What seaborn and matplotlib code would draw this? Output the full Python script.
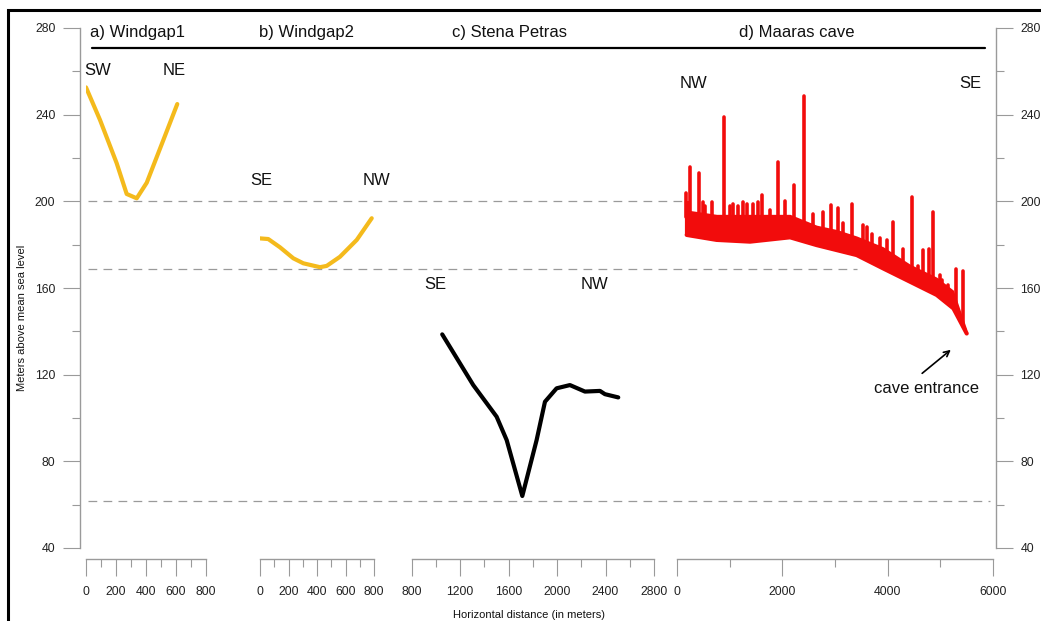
import numpy as np
import pandas as pd
import matplotlib
matplotlib.use("Agg")
import matplotlib.pyplot as plt
import seaborn as sns
from matplotlib.ticker import MultipleLocator

# ==================================================
# DATA
# ==================================================

# a) Windgap1 profile, SW -> NE
wg1_dist = [0, 94, 205, 272, 339, 406, 517, 610]
wg1_elev = [252.6, 237.5, 217.6, 203.4, 201.4, 208.6, 228.3, 244.9]

# b) Windgap2 profile, SE -> NW
wg2_dist = [0, 58, 140, 234, 304, 421, 468, 561, 679, 784]
wg2_elev = [182.9, 182.6, 178.8, 173.7, 171.4, 169.6, 170.2, 174.4, 182.2, 192.2]

# c) Stena Petras profile, SE -> NW
sp_dist = [1052, 1308, 1501, 1584, 1713, 1831, 1900, 1996, 2106, 2230, 2354, 2395, 2505]
sp_elev = [138.6, 115.2, 100.6, 89.8, 64.0, 89.8, 107.5, 113.7, 115.2, 112.2, 112.5, 111.0, 109.5]

# d) Maaras cave passage, NW -> SE (floor / roof envelope + spikes)
mc_dist = [184, 753, 1387, 2146, 2652, 3032, 3412, 3918, 4425, 4931, 5248, 5501]
mc_floor = [184.5, 182.2, 181.4, 183.4, 179.8, 177.5, 175.2, 169.0, 162.9, 156.8, 150.6, 139.0]
mc_roof = [196, 194, 194, 194, 189, 187, 184, 179, 171, 165, 159, 141]
spike_dist = [171, 247, 418, 500, 532, 658, 892, 1006, 1070, 1165, 1260, 1324, 1450,
              1545, 1621, 1767, 1912, 2051, 2222, 2412, 2590, 2779, 2925, 3064, 3159,
              3317, 3539, 3602, 3697, 3855, 3982, 4108, 4298, 4463, 4583, 4666, 4793,
              4855, 4995, 5026, 5146, 5291, 5437]
spike_elev = [203.7, 216.0, 212.9, 199.5, 198.0, 199.5, 238.8, 198.0, 199.0, 198.0,
              199.5, 199.0, 199.0, 199.5, 202.9, 196.0, 218.3, 200.0, 207.5, 248.6,
              194.0, 195.0, 198.3, 197.0, 190.0, 198.8, 189.1, 188.0, 185.0, 183.0,
              182.0, 190.6, 178.0, 201.9, 170.0, 177.5, 178.0, 195.2, 166.0, 163.9,
              161.6, 168.6, 168.0]

# reference levels (dashed lines)
levels = [200.2, 168.8, 61.7]

panel_titles = ["a) Windgap1", "b) Windgap2", "c) Stena Petras", "d) Maaras cave"]

# ==================================================
# STYLE
# ==================================================

sns.set_style("white")
plt.rcParams["font.family"] = ["Liberation Sans", "DejaVu Sans"]

W, H = 1041, 621
YELLOW = "#F4BA1C"
RED = "#F20C0C"
GREY = "#9a9a9a"


def fx(px):
    return px / W


def fy(py):
    return 1 - py / H


def box(x0, x1, y0=28, y1=548):
    return [fx(x0), fy(y1), fx(x1) - fx(x0), (y1 - y0) / H]


fig = plt.figure(figsize=(W / 100, H / 100), dpi=100)

# ==================================================
# SHARED ELEVATION AXIS
# ==================================================

ax = fig.add_axes(box(80, 996))
ax.set_ylim(40, 280)
ax.set_xlim(0, 1)
ax.patch.set_alpha(0)
for s in ["top", "bottom"]:
    ax.spines[s].set_visible(False)
for s in ["left", "right"]:
    ax.spines[s].set_color(GREY)
    ax.spines[s].set_linewidth(1)
ax.set_xticks([])
ax.yaxis.set_major_locator(MultipleLocator(40))
ax.yaxis.set_minor_locator(MultipleLocator(20))
ax.tick_params(axis="y", which="both", left=True, right=True, labelleft=True,
               labelright=True, direction="out", color=GREY, width=0.8,
               labelsize=8.8, labelcolor="#222222")
ax.tick_params(axis="y", which="major", length=12.2, pad=5.5)
ax.tick_params(axis="y", which="minor", length=6)

dash_ends = [690, 857, 990]
for lev, xe in zip(levels, dash_ends):
    ax.axhline(lev, xmin=(88 - 80) / 916, xmax=(xe - 80) / 916, color=GREY,
               lw=0.9, ls=(0, (7, 5)))
ax.axhline(270.9, xmin=(92 - 80) / 916, xmax=(985 - 80) / 916, color="black", lw=1.6)

# ==================================================
# PROFILE PANELS
# ==================================================

panels = [
    (86, 205.7, (0, 800), 200, 100),
    (260, 374, (0, 800), 200, 100),
    (411.7, 654, (800, 2800), 400, 200),
    (677, 993, (0, 6000), 2000, 1000),
]
axes = []
for x0, x1, xl, maj, mnr in panels:
    pa = fig.add_axes(box(x0, x1))
    pa.set_xlim(*xl)
    pa.set_ylim(40, 280)
    pa.patch.set_alpha(0)
    for s in ["top", "left", "right"]:
        pa.spines[s].set_visible(False)
    pa.spines["bottom"].set_position(("outward", 8))
    pa.spines["bottom"].set_color(GREY)
    pa.spines["bottom"].set_linewidth(1)
    pa.set_yticks([])
    pa.xaxis.set_major_locator(MultipleLocator(maj))
    pa.xaxis.set_minor_locator(MultipleLocator(mnr))
    pa.tick_params(axis="x", which="both", bottom=True, direction="out", color=GREY,
                   width=0.8, labelsize=8.8, labelcolor="#222222")
    pa.tick_params(axis="x", which="major", length=12.2, pad=7.5)
    pa.tick_params(axis="x", which="minor", length=5.8)
    axes.append(pa)

ax_a, ax_b, ax_c, ax_d = axes

sns.lineplot(x=wg1_dist, y=wg1_elev, ax=ax_a, color=YELLOW, lw=3, sort=False,
             solid_capstyle="round")
sns.lineplot(x=wg2_dist, y=wg2_elev, ax=ax_b, color=YELLOW, lw=3, sort=False,
             solid_capstyle="round")
sns.lineplot(x=sp_dist, y=sp_elev, ax=ax_c, color="black", lw=3, sort=False,
             solid_capstyle="round")

# Maaras cave: filled passage band + spikes
ax_d.fill_between(mc_dist, mc_floor, mc_roof, color=RED, lw=0)
sns.lineplot(x=mc_dist, y=mc_floor, ax=ax_d, color=RED, lw=3, sort=False,
             solid_capstyle="round")
spike_base = np.interp(spike_dist, mc_dist, mc_roof) - 3
ax_d.vlines(spike_dist, spike_base, spike_elev, color=RED, lw=2.6, capstyle="round")
ax_d.vlines([mc_dist[0]], mc_floor[0], 200, color=RED, lw=3)

for pa in axes:
    pa.set_xlabel("")
    pa.set_ylabel("")

# direction labels
kw = dict(fontsize=12, ha="center", va="center", color="#111111")
ax_a.text(77, 260.6, "SW", **kw)
ax_a.text(588, 260.6, "NE", **kw)
ax_b.text(7, 209.4, "SE", **kw)
ax_b.text(821, 209.4, "NW", **kw)
ax_c.text(992, 161.4, "SE", **kw)
ax_c.text(2313, 161.4, "NW", **kw)
ax_d.text(310, 254.2, "NW", **kw)
ax_d.text(5563, 254.2, "SE", **kw)

ax_d.annotate("", xy=(5240, 132.3), xytext=(4614, 119.8),
              arrowprops=dict(arrowstyle="->", lw=1.2, color="black"))
ax_d.text(4728, 113.4, "cave entrance", **kw)

# ==================================================
# TITLES, LABELS, FRAME
# ==================================================

for t, xp in zip(panel_titles, [90, 259, 452, 739]):
    fig.text(fx(xp), fy(33), t, fontsize=12, ha="left", va="center", color="#111111")

fig.text(fx(21.7), fy(318), "Meters above mean sea level", rotation=90,
         fontsize=8, ha="center", va="center", color="#111111")
fig.text(fx(529), fy(615), "Horizontal distance (in meters)",
         fontsize=8, ha="center", va="center", color="#111111")

frame = plt.Rectangle((fx(8), -0.2), 2, fy(10) + 0.2, transform=fig.transFigure,
                      fill=False, lw=2.2, edgecolor="black")
fig.add_artist(frame)

fig.savefig("out.png", dpi=100)
